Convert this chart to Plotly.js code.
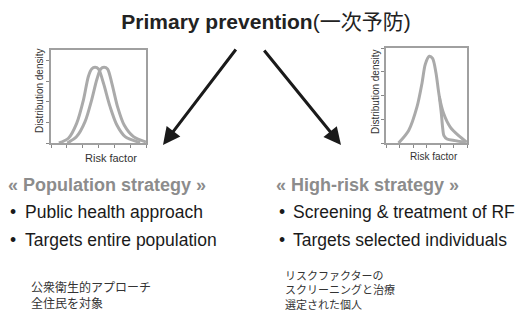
<!DOCTYPE html>
<html>
<head>
<meta charset="utf-8">
<script src="https://cdn.plot.ly/plotly-3.0.1.min.js"></script>
<style>html,body{margin:0;padding:0;background:#fff;}#chart{width:518px;height:313px;}</style>
</head>
<body>
<div id="chart"></div>
<script>
// Population strategy panel: distribution before and after a whole-population shift
const popBeforeX = [0.5, 1.1, 1.62, 2.05, 2.36, 2.57, 2.78, 3.0, 3.31, 3.73, 4.16, 4.68, 5.63];
const popBeforeY = [0, 0.23, 0.95, 2.09, 3.22, 3.58, 3.66, 3.58, 2.9, 1.76, 0.87, 0.31, 0.02];
const popAfterX = [1.03, 1.62, 2.15, 2.57, 2.89, 3.14, 3.35, 3.57, 3.84, 4.2, 4.62, 5.21, 6.0];
const popAfterY = [0, 0.31, 1.03, 2.09, 3.06, 3.58, 3.66, 3.58, 2.9, 1.76, 0.87, 0.31, 0.05];

// High-risk strategy panel: full distribution and truncated upper tail
const hrFullX = [0.93, 1.68, 2.3, 2.67, 2.91, 3.21, 3.45, 3.7, 3.95, 4.27, 4.76, 5.38, 6.0];
const hrFullY = [0, 0.53, 1.53, 2.53, 3.32, 3.65, 3.56, 2.96, 1.96, 1.24, 0.67, 0.31, 0.03];
const hrTruncX = [3.95, 4.1, 4.19, 4.29, 4.52, 5.13, 5.87];
const hrTruncY = [1.96, 1.24, 0.67, 0.31, 0.17, 0.1, 0.03];

const titleText = "<b>Primary prevention</b>(一次予防)";
const axisYLabel = "Distribution density";
const axisXLabel = "Risk factor";
const leftHeading = "« Population strategy »";
const leftBullets = ["Public health approach", "Targets entire population"];
const leftJa = ["公衆衛生的アプローチ", "全住民を対象"];
const rightHeading = "« High-risk strategy »";
const rightBullets = ["Screening & treatment of RF", "Targets selected individuals"];
const rightJa = ["リスクファクターの", "スクリーニングと治療", "選定された個人"];

const W = 518, H = 313;
const px = v => v / W;
const py = v => 1 - v / H;
const LAT = 'Liberation Sans, Arial, sans-serif';
const JP = '"Noto Sans CJK JP", sans-serif';
const curveColor = '#aaaaaa';

const line = {color: curveColor, width: 3, shape: 'spline', smoothing: 0.8};
const traces = [
  {x: popBeforeX, y: popBeforeY, xaxis: 'x', yaxis: 'y', mode: 'lines', line: line, hoverinfo: 'skip'},
  {x: popAfterX, y: popAfterY, xaxis: 'x', yaxis: 'y', mode: 'lines', line: line, hoverinfo: 'skip'},
  {x: hrFullX, y: hrFullY, xaxis: 'x2', yaxis: 'y2', mode: 'lines', line: line, hoverinfo: 'skip'},
  {x: hrTruncX, y: hrTruncY, xaxis: 'x2', yaxis: 'y2', mode: 'lines', line: line, hoverinfo: 'skip'}
];

function ax(domain, range, dtick, anchor) {
  return {domain: domain, range: range, dtick: dtick, tick0: 0, anchor: anchor,
    showline: true, mirror: true, linecolor: '#a0a0a0', linewidth: 2,
    ticks: 'outside', ticklen: 3, tickwidth: 1, tickcolor: '#888',
    showticklabels: false, showgrid: false, zeroline: false, fixedrange: true};
}

const ann = [];
function txt(t, x, y, size, color, family, opts) {
  ann.push(Object.assign({text: t, x: px(x), y: py(y), xref: 'paper', yref: 'paper',
    showarrow: false, xanchor: 'left', yanchor: 'middle',
    font: {size: size, color: color, family: family}}, opts || {}));
}
// axis labels
txt(axisYLabel, 39, 91, 10, '#333', LAT, {xanchor: 'center', textangle: -90});
txt(axisYLabel, 375, 92, 10, '#333', LAT, {xanchor: 'center', textangle: -90});
txt(axisXLabel, 111, 158, 11, '#333', LAT, {xanchor: 'center'});
txt(axisXLabel, 434, 156, 10, '#333', LAT, {xanchor: 'center'});
// headings
txt('<b>' + leftHeading + '</b>', 6, 185, 18, '#8c8c8c', LAT);
txt('<b>' + rightHeading + '</b>', 274, 185, 18, '#8c8c8c', LAT);
// bullets
const bY = [212, 240];
leftBullets.forEach((b, i) => { txt('•', 8, bY[i], 17.5, '#1a1a1a', LAT); txt(b, 23, bY[i], 17.5, '#1a1a1a', LAT); });
rightBullets.forEach((b, i) => { txt('•', 277, bY[i], 17.5, '#1a1a1a', LAT); txt(b, 291, bY[i], 17.5, '#1a1a1a', LAT); });
// Japanese (multi-line blocks)
txt(leftJa.join('<br>'), 29, 294, 12, '#333', JP, {align: 'left'});
txt(rightJa.join('<br>'), 283, 289.5, 11, '#333', JP, {align: 'left'});
// arrows
ann.push({x: px(163), y: py(145), xref: 'paper', yref: 'paper', text: '', showarrow: true,
  ax: 74, ay: -97, arrowhead: 2, arrowsize: 1.15, arrowwidth: 3, arrowcolor: '#1a1a1a', standoff: 0, startstandoff: 0});
ann.push({x: px(341), y: py(145), xref: 'paper', yref: 'paper', text: '', showarrow: true,
  ax: -78, ay: -96, arrowhead: 2, arrowsize: 1.15, arrowwidth: 3, arrowcolor: '#1a1a1a', standoff: 0, startstandoff: 0});

const layout = {
  width: W, height: H, margin: {l: 0, r: 0, t: 0, b: 0}, showlegend: false,
  paper_bgcolor: '#ffffff', plot_bgcolor: '#ffffff',
  title: {text: titleText, x: px(266), y: py(22), xanchor: 'center', yanchor: 'middle',
    xref: 'paper', yref: 'paper',
    font: {size: 21, color: '#222', family: 'Liberation Sans, Arial, "Noto Sans CJK JP", sans-serif'}},
  xaxis: ax([px(51), px(146)], [0, 6], 1, 'y'),
  yaxis: ax([py(143), py(50)], [0, 4.5], 1, 'x'),
  xaxis2: ax([px(386), px(467)], [0, 6], 1, 'y2'),
  yaxis2: ax([py(143), py(48)], [0, 4], 1, 'x2'),
  annotations: ann
};
Plotly.newPlot('chart', traces, layout, {staticPlot: true, displayModeBar: false});
</script>
</body>
</html>
